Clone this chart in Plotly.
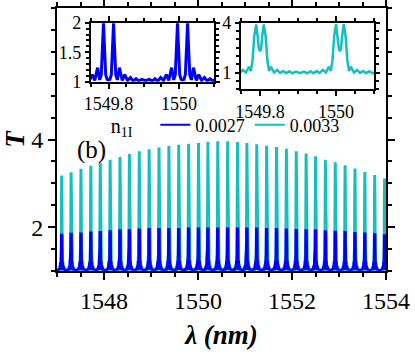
import plotly.graph_objects as go

# peak (doublet centre) wavelengths, nm
peak_wl = [1547.10, 1547.30, 1547.51, 1547.72, 1547.92, 1548.13, 1548.34, 1548.54,
           1548.75, 1548.96, 1549.17, 1549.38, 1549.59, 1549.80, 1550.01, 1550.21,
           1550.42, 1550.63, 1550.84, 1551.04, 1551.25, 1551.46, 1551.67, 1551.88,
           1552.09, 1552.30, 1552.50, 1552.71, 1552.92, 1553.13, 1553.34, 1553.55,
           1553.76, 1553.97]

# peak transmission for each n_1I
peak_t_0027 = [1.85, 1.87, 1.88, 1.90, 1.91, 1.93, 1.95, 1.95, 1.97, 1.98, 1.98, 1.98,
               1.98, 1.99, 1.99, 1.99, 1.99, 1.99, 1.99, 1.99, 1.99, 1.98, 1.98,
               1.97, 1.96, 1.95, 1.95, 1.93, 1.92, 1.91, 1.89, 1.88, 1.86, 1.84]
peak_t_0033 = [3.18, 3.25, 3.33, 3.40, 3.47, 3.54, 3.60, 3.67, 3.73, 3.78, 3.82, 3.86,
               3.88, 3.90, 3.92, 3.95, 3.96, 3.96, 3.94, 3.92, 3.89, 3.86, 3.83,
               3.79, 3.73, 3.68, 3.62, 3.54, 3.48, 3.41, 3.34, 3.26, 3.19, 3.11]

# one period of the line shape (as seen in the insets):
# offset from doublet centre (nm) and fraction of (peak - 1)
blue_off = [-0.1035, -0.094, -0.086, -0.078, -0.070, -0.062, -0.054, -0.046, -0.039,
            -0.031, -0.025, -0.0205, -0.017, -0.0143, -0.0115, -0.008, -0.004, 0.0,
            0.004, 0.008, 0.0115, 0.0143, 0.017, 0.0205, 0.025, 0.031, 0.039, 0.046,
            0.054, 0.062, 0.070, 0.078, 0.086, 0.094, 0.1035]
blue_shape = [0.02, 0.04, 0.01, 0.05, 0.01, 0.07, 0.02, 0.12, 0.02,
              0.24, 0.03, 0.12, 0.60, 1.00, 0.60, 0.12, 0.04, 0.03,
              0.04, 0.12, 0.60, 1.00, 0.60, 0.12, 0.03, 0.24, 0.02, 0.12,
              0.02, 0.07, 0.01, 0.05, 0.01, 0.04, 0.02]

cyan_off = [-0.1035, -0.094, -0.086, -0.077, -0.069, -0.061, -0.053, -0.045, -0.037,
            -0.029, -0.024, -0.0195, -0.015, -0.010, -0.006, -0.003, 0.0,
            0.003, 0.006, 0.010, 0.015, 0.0195, 0.024, 0.029, 0.037, 0.045,
            0.053, 0.061, 0.069, 0.077, 0.086, 0.094, 0.1035]
cyan_shape = [-0.01, 0.02, -0.015, 0.025, -0.015, 0.03, -0.01, 0.055, 0.0,
              0.12, 0.03, 0.25, 0.75, 1.00, 0.75, 0.50, 0.44,
              0.50, 0.75, 1.00, 0.75, 0.25, 0.03, 0.12, 0.0, 0.055,
              -0.01, 0.03, -0.015, 0.025, -0.015, 0.02, -0.01]

BLUE = '#0000FF'
CYAN = '#13BFBF'
FONT = 'Liberation Serif'


def build_spectrum(centres, heights, off, shape):
    xs, ys = [], []
    for c, h in zip(centres, heights):
        for d, s in zip(off, shape):
            x = c + d
            if xs and x <= xs[-1]:
                continue
            xs.append(x)
            ys.append(1 + (h - 1) * s)
    return xs, ys


def f(size, **kw):
    return dict(family=FONT, size=size, color='black', **kw)


bx, by = build_spectrum(peak_wl, peak_t_0027, blue_off, blue_shape)
cx, cy = build_spectrum(peak_wl, peak_t_0033, cyan_off, cyan_shape)

fig = go.Figure()
fig.add_trace(go.Scatter(x=cx, y=cy, mode='lines', name='0.0033', legendrank=2,
                         line=dict(color=CYAN, width=2)))
fig.add_trace(go.Scatter(x=bx, y=by, mode='lines', name='0.0027', legendrank=1,
                         line=dict(color=BLUE, width=2)))
# insets: zoom of the same curves
fig.add_trace(go.Scatter(x=bx, y=by, mode='lines', xaxis='x2', yaxis='y2',
                         line=dict(color=BLUE, width=3), showlegend=False))
fig.add_trace(go.Scatter(x=cx, y=cy, mode='lines', xaxis='x3', yaxis='y3',
                         line=dict(color=CYAN, width=2.5), showlegend=False))

ax = dict(showline=True, linecolor='black', linewidth=2, mirror='allticks',
          ticks='outside', tickcolor='black', tickwidth=1.5, showgrid=False,
          zeroline=False, automargin=False)
minor = dict(ticks='outside', tickcolor='black', tickwidth=1.5, ticklen=4)
minor_s = dict(ticks='outside', tickcolor='black', tickwidth=1.5, ticklen=3)

fig.update_layout(
    width=415, height=357,
    margin=dict(l=57, r=29, t=8, b=86),
    paper_bgcolor='white', plot_bgcolor='white',
    font=f(18),
    xaxis=dict(**ax, range=[1547, 1554], tick0=1548, dtick=2, ticklen=7,
               minor=dict(**minor, tickmode='linear', tick0=1547, dtick=0.5),
               tickfont=f(24),
               title=dict(text='<b><i>λ (nm)</i></b>', font=f(27), standoff=12)),
    yaxis=dict(**ax, range=[1, 7], tickmode='array', tickvals=[2, 4], ticklen=7,
               minor=dict(**minor, tickmode='linear', tick0=1, dtick=0.5),
               tickfont=f(24),
               title=dict(text='<b><i>T</i></b>', font=f(27), standoff=8)),
    xaxis2=dict(**ax, domain=[0.103, 0.478], anchor='y2', range=[1549.75, 1550.10],
                tickmode='array', tickvals=[1549.8, 1550.0], ticktext=['1549.8', '1550'],
                ticklen=5, tickfont=f(18),
                minor=dict(**minor_s, tickmode='linear', tick0=1549.75, dtick=0.05)),
    yaxis2=dict(**ax, domain=[0.720, 0.944], anchor='x2', range=[1, 2],
                tickmode='array', tickvals=[1, 1.5, 2], ticktext=['1', '1.5', '2'],
                ticklen=4, tickfont=f(18),
                minor=dict(**minor_s, tickmode='linear', tick0=1, dtick=0.1)),
    xaxis3=dict(**ax, domain=[0.559, 0.964], anchor='y3', range=[1549.75, 1550.10],
                tickmode='array', tickvals=[1549.8, 1550.0], ticktext=['1549.8', '1550'],
                ticklen=5, tickfont=f(18),
                minor=dict(**minor_s, tickmode='linear', tick0=1549.75, dtick=0.05)),
    yaxis3=dict(**ax, domain=[0.6915, 0.944], anchor='x3', range=[0, 4],
                tickmode='array', tickvals=[1, 4], ticktext=['1', '4'],
                ticklen=4, tickfont=f(18),
                minor=dict(**minor_s, tickmode='linear', tick0=0, dtick=0.5)),
    legend=dict(orientation='h', x=0.157, y=0.555, xanchor='left', yanchor='middle',
                title=dict(text='n<sub>1I</sub>\u00a0\u00a0\u00a0', side='left', font=f(20)),
                font=f(18), bgcolor='rgba(0,0,0,0)', itemwidth=30,
                tracegroupgap=0),
    annotations=[dict(text='(b)', x=0.105, y=0.461, xref='paper', yref='paper',
                      xanchor='center', yanchor='middle',
                      showarrow=False, font=f(25))],
)

fig.write_html("out.html", config={'displayModeBar': False},
               post_script="document.body.style.margin='0';")
